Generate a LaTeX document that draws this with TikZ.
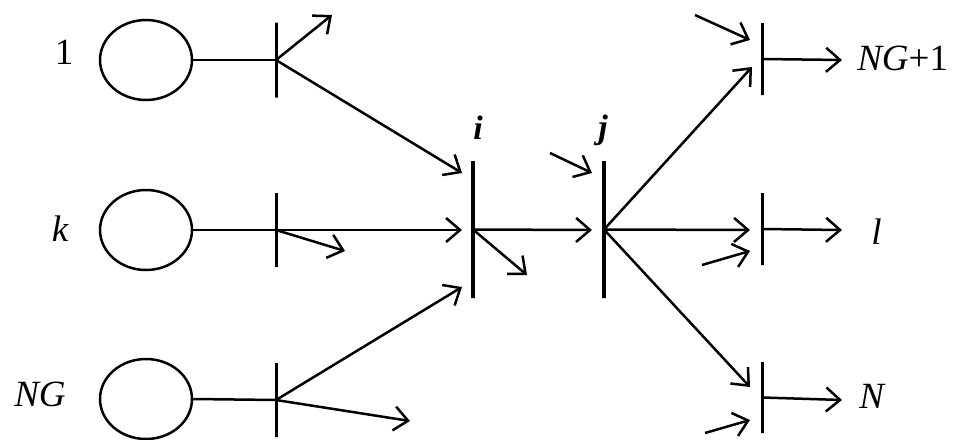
\documentclass[tikz,border=0pt]{standalone}
\usepackage{fontspec}
\setmainfont{Liberation Serif}
\usetikzlibrary{shapes.geometric,arrows.meta}
\begin{document}
\begin{tikzpicture}[x=1pt,y=-1pt,line width=2.5pt,
  gen/.style={ellipse,draw,minimum width=92pt,minimum height=80pt,inner sep=0pt},
  busbar/.style={draw,rectangle,minimum width=0pt,inner sep=0pt,line width=3pt},
  arr/.style={-{Straight Barb[length=14pt,width=24pt,line width=2.5pt]}},
  lab/.style={font=\fontsize{37}{40}\selectfont\itshape,inner sep=0pt},
  numlab/.style={font=\fontsize{37}{40}\selectfont,inner sep=0pt},
  boldlab/.style={font=\fontsize{34}{36}\selectfont\bfseries\itshape,inner sep=0pt}]
\useasboundingbox (0,0) rectangle (960,439);
% generators
\node[gen] (g1) at (146,60) {};
\node[gen] (gk) at (146,230) {};
\node[gen] (gNG) at (146,399) {};
% buses
\node[busbar,minimum height=75pt] (b1) at (276,60) {};
\node[busbar,minimum height=74pt] (bk) at (276,230) {};
\node[busbar,minimum height=74pt] (bNG) at (276,400) {};
\node[busbar,minimum height=137pt,line width=3.6pt] (bi) at (473,229.5) {};
\node[busbar,minimum height=137pt,line width=3.6pt] (bj) at (604,229.5) {};
\node[busbar,minimum height=72pt] (bNG1) at (762,59) {};
\node[busbar,minimum height=72pt] (bl) at (762,229) {};
\node[busbar,minimum height=71pt] (bN) at (762,397.5) {};
% labels
\node[numlab] (l1) at (64,52) {1};
\node[lab] (lk) at (60,229) {k};
\node[lab] (lNG) at (40,394) {NG};
\node[boldlab] (li) at (478,128) {i};
\node[boldlab] (lj) at (603,130) {j};
\node[lab,anchor=west] (lNG1) at (856,58) {NG\textup{+1}};
\node[lab,anchor=west] (ll) at (870,232) {l};
\node[lab,anchor=west] (lN) at (858,396) {N};
% free ends
\coordinate (c1) at (332,15);
\coordinate (i1) at (462,173);
\coordinate (ik) at (462,230);
\coordinate (ck) at (345,251);
\coordinate (iNG) at (462,287);
\coordinate (cNG) at (410,421);
\coordinate (ci) at (527,275);
\coordinate (ji) at (592,230);
\coordinate (sj) at (550,153);
\coordinate (ej) at (592,173);
\coordinate (tNG1) at (752,67);
\coordinate (tl) at (750,230);
\coordinate (tN) at (750,387);
\coordinate (sNG1) at (695,15);
\coordinate (eNG1) at (750,40);
\coordinate (sl) at (702,265);
\coordinate (el) at (750,251);
\coordinate (sN) at (705,433);
\coordinate (eN) at (750,420);
\coordinate (oNG1) at (842,60);
\coordinate (ol) at (842,230);
\coordinate (oN) at (842,400);
% connectors
\draw (g1.east) -- (b1.center);
\draw[arr] (b1.center) -- (c1);
\draw[arr] (b1.center) -- (i1);
\draw[arr] (gk.east) -- (ik);
\draw[arr] (bk.center) -- (ck);
\draw (gNG.east) -- (bNG.center);
\draw[arr] (bNG.center) -- (iNG);
\draw[arr] (bNG.center) -- (cNG);
\draw[arr] (bi.center) -- (ci);
\draw[arr] (bi.center) -- (ji);
\draw[arr] (sj) -- (ej);
\draw[arr] (bj.center) -- (tNG1);
\draw[arr] (bj.center) -- (tl);
\draw[arr] (bj.center) -- (tN);
\draw[arr] (sNG1) -- (eNG1);
\draw[arr] (sl) -- (el);
\draw[arr] (sN) -- (eN);
\draw[arr] (bNG1.center) -- (oNG1);
\draw[arr] (bl.center) -- (ol);
\draw[arr] (bN.center) -- (oN);
\end{tikzpicture}
\end{document}
